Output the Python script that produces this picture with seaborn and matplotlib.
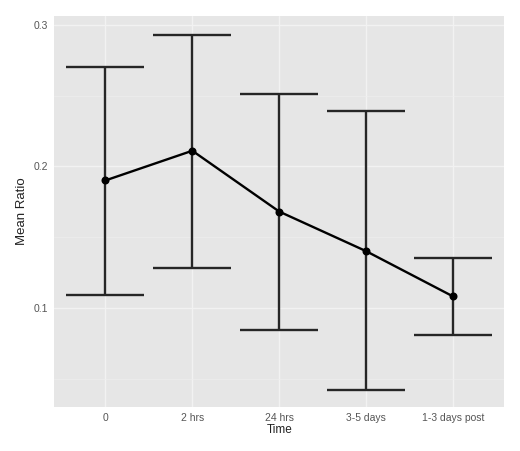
import numpy as np
import pandas as pd
import matplotlib
matplotlib.use("Agg")
import matplotlib.pyplot as plt
import seaborn as sns
from matplotlib.ticker import MultipleLocator

# values
times = ["0", "2 hrs", "24 hrs", "3-5 days", "1-3 days post"]
mean_ratio = [0.190, 0.211, 0.168, 0.140, 0.108]
upper = [0.270, 0.293, 0.251, 0.239, 0.135]
lower = [0.109, 0.128, 0.084, 0.042, 0.081]

df = pd.DataFrame({"Time": times, "Mean Ratio": mean_ratio})

sns.set_theme(style="darkgrid", rc={
    "axes.facecolor": "#E6E6E6",
    "grid.color": "#F2F2F2",
    "axes.edgecolor": "#E6E6E6",
})
plt.rcParams['font.family'] = ['Liberation Sans', 'DejaVu Sans']

fig, ax = plt.subplots(figsize=(5.2, 4.51), dpi=100)

pos = np.arange(len(times))
yerr = [np.array(mean_ratio) - np.array(lower), np.array(upper) - np.array(mean_ratio)]
# capsize is in points: ~39 px half-width at 100 dpi
ax.errorbar(pos, mean_ratio, yerr=yerr, fmt="none", ecolor="#262626",
            elinewidth=1.7, capsize=28, capthick=1.7, zorder=3)

sns.pointplot(data=df, x="Time", y="Mean Ratio", order=times, color="black",
              errorbar=None, markersize=4.5, linewidth=1.7, ax=ax, zorder=4)

ax.set_xlim(-0.59, 4.59)
ax.set_ylim(0.030, 0.3064)
ax.yaxis.set_minor_locator(MultipleLocator(0.05))
ax.set_yticks([0.1, 0.2, 0.3])
ax.set_yticklabels(["0.1", "0.2", "0.3"])
ax.grid(which="major", color="#F2F2F2", linewidth=1.0)
ax.grid(which="minor", axis="y", color="#EEEEEE", linewidth=0.5)
for s in ax.spines.values():
    s.set_visible(False)

ax.tick_params(axis="both", which="major", length=2.5, width=0.6, color="#555555",
               labelsize=7.5, labelcolor="#555555", pad=2)
ax.tick_params(axis="y", which="minor", length=0)
ax.set_xlabel("Time", fontsize=8.5, color="#222222", labelpad=1)
ax.set_ylabel("Mean Ratio", fontsize=9.5, color="#222222", labelpad=4)

fig.subplots_adjust(left=0.104, right=0.97, top=0.965, bottom=0.098)
fig.savefig("out.png", dpi=100)
